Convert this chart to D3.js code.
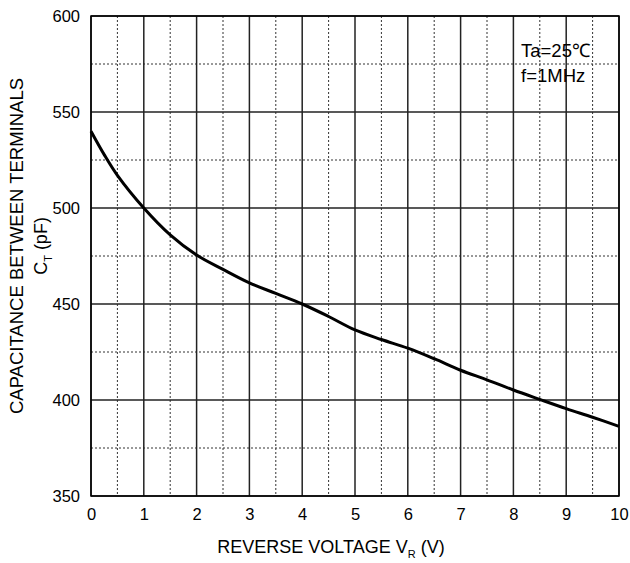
<!DOCTYPE html>
<html><head><meta charset="utf-8">
<script src="https://cdn.jsdelivr.net/npm/d3@7"></script>
<style>body{margin:0;background:#fff}svg{display:block}text{font-family:"Liberation Sans",Arial,sans-serif;fill:#000}</style>
</head><body>
<svg id="c" width="630" height="563"></svg>
<script>
const voltage = [0,0.25,0.5,1,1.5,2,2.5,3,3.5,4,4.5,5,5.5,6,6.5,7,7.5,8,8.5,9,9.5,10];
const capacitance = [540,527.8,517,500,486,475.5,468,461,455.5,450,443.5,436.5,431.5,427,421.5,415.5,410.5,405.2,400.3,395.5,391,386.3];
const xTicks = [0,1,2,3,4,5,6,7,8,9,10];
const yTicks = [350,400,450,500,550,600];
const xMinor = [0.5,1.5,2.5,3.5,4.5,5.5,6.5,7.5,8.5,9.5];
const yMinor = [375,425,475,525,575];

const svg = d3.select("#c");
const L=91,R=619,T=16,B=496;
const x = d3.scaleLinear().domain([0,10]).range([L,R]);
const y = d3.scaleLinear().domain([350,600]).range([B,T]);
const g = svg.append("g");

g.selectAll(".vm").data(xMinor).join("line")
 .attr("x1",d=>x(d)).attr("x2",d=>x(d)).attr("y1",T).attr("y2",B)
 .attr("stroke","#333").attr("stroke-width",1).attr("stroke-dasharray","2,2");
g.selectAll(".hm").data(yMinor).join("line")
 .attr("x1",L).attr("x2",R).attr("y1",d=>y(d)).attr("y2",d=>y(d))
 .attr("stroke","#333").attr("stroke-width",1).attr("stroke-dasharray","2,2");
g.selectAll(".vM").data(xTicks).join("line")
 .attr("x1",d=>x(d)).attr("x2",d=>x(d)).attr("y1",T).attr("y2",B)
 .attr("stroke","#222").attr("stroke-width",1.5);
g.selectAll(".hM").data(yTicks).join("line")
 .attr("x1",L).attr("x2",R).attr("y1",d=>y(d)).attr("y2",d=>y(d))
 .attr("stroke","#222").attr("stroke-width",1.5);
g.append("rect").attr("x",L).attr("y",T).attr("width",R-L).attr("height",B-T)
 .attr("fill","none").attr("stroke","#000").attr("stroke-width",1.5);

const xAxis = svg.append("g").attr("transform",`translate(0,${B})`)
 .call(d3.axisBottom(x).tickValues(xTicks).tickSize(0).tickPadding(12).tickFormat(d3.format("d")));
const yAxis = svg.append("g").attr("transform",`translate(${L},0)`)
 .call(d3.axisLeft(y).tickValues(yTicks).tickSize(0).tickPadding(11).tickFormat(d3.format("d")));
[xAxis,yAxis].forEach(a=>{a.select(".domain").remove();a.selectAll("text").attr("font-size",16.5).attr("font-family","Liberation Sans, Arial, sans-serif").attr("fill","#000");});

const line = d3.line().x((d,i)=>x(voltage[i])).y(d=>y(d)).curve(d3.curveCatmullRom);
svg.append("path").datum(capacitance).attr("d",line)
 .attr("fill","none").attr("stroke","#000").attr("stroke-width",3);

svg.append("text").attr("x",521).attr("y",57).attr("font-size",18.5).text("Ta=25℃");
svg.append("text").attr("x",521).attr("y",82).attr("font-size",18.5).text("f=1MHz");

const xt = svg.append("text").attr("x",331).attr("y",553).attr("text-anchor","middle").attr("font-size",18);
xt.append("tspan").text("REVERSE VOLTAGE V");
xt.append("tspan").attr("font-size",11).attr("dy",5).text("R");
xt.append("tspan").attr("dy",-5).text(" (V)");

svg.append("text").attr("transform","translate(23,246) rotate(-90)").attr("text-anchor","middle").attr("font-size",18.5)
 .text("CAPACITANCE BETWEEN TERMINALS");
const yt = svg.append("text").attr("transform","translate(47,246) rotate(-90)").attr("text-anchor","middle").attr("font-size",18);
yt.append("tspan").text("C");
yt.append("tspan").attr("font-size",11).attr("dy",5).text("T");
yt.append("tspan").attr("dy",-5).text(" (pF)");
</script>
</body></html>
